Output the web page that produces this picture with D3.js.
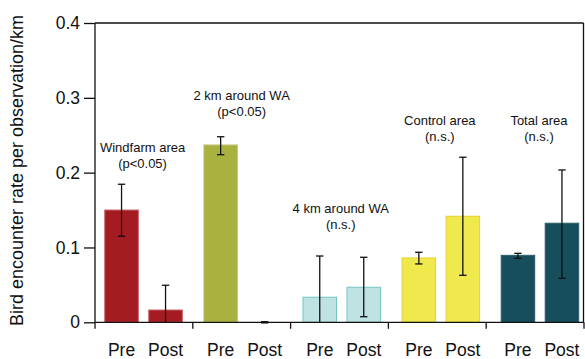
<!DOCTYPE html>
<html><head><meta charset="utf-8">
<script src="https://cdn.jsdelivr.net/npm/d3@7"></script>
<style>body{margin:0;background:#fff}svg{display:block}text{font-family:"Liberation Sans",Arial,sans-serif;fill:#111}</style>
</head><body><svg id="c" width="585" height="359"></svg>
<script>
const groups = ["Windfarm area","2 km around WA","4 km around WA","Control area","Total area"];
const groupNotes = ["(p<0.05)","(p<0.05)","(n.s.)","(n.s.)","(n.s.)"];
const periods = ["Pre","Post"];
const preValues  = [0.150, 0.237, 0.0335, 0.086, 0.0895];
const preLow     = [0.115, 0.224, -0.02, 0.078, 0.0855];
const preHigh    = [0.1845, 0.248, 0.0886, 0.0936, 0.0922];
const postValues = [0.0164, 0.0, 0.0468, 0.1417, 0.1324];
const postLow    = [-0.016, 0.0, 0.0075, 0.0628, 0.0588];
const postHigh   = [0.0495, 0.0, 0.0869, 0.2206, 0.2036];
const labelValues = [0.2276, 0.2977, 0.1463, 0.2634, 0.2634];
const yTicks = [0, 0.1, 0.2, 0.3, 0.4];
const yTickLabels = ["0","0.1","0.2","0.3","0.4"];
const fills   = ["#a41c22","#aab23f","#bfe3e3","#efe94d","#164e5b"];
const strokes = ["#c05a5e","#c3c27a","#74c5c3","#e8d02c","#2a5e6a"];

const svg = d3.select("#c");
const y = d3.scaleLinear().domain([0,0.4]).range([322.3,23]);
const xAxisScale = d3.scaleBand().domain(groups).range([95,584]).paddingInner(0).paddingOuter(0);
const xg = d3.scaleBand().domain(groups).range([94,589.5]);

const bars = [];
groups.forEach((g,i)=>{
  bars.push({g,i,p:"Pre",v:preValues[i],lo:preLow[i],hi:preHigh[i]});
  bars.push({g,i,p:"Post",v:postValues[i],lo:postLow[i],hi:postHigh[i]});
});
const cx = d => xg(d.g)+xg.bandwidth()/2 + (d.p==="Pre"?-22:22);
const bw = 33.5;

// bars
svg.append("g").selectAll("rect").data(bars.filter(d=>d.v>0)).join("rect")
  .attr("x",d=>cx(d)-bw/2).attr("width",bw)
  .attr("y",d=>y(d.v)).attr("height",d=>y(0)-y(d.v))
  .attr("fill",d=>fills[d.i]).attr("stroke",d=>strokes[d.i]).attr("stroke-width",1);

// error bars
const eg = svg.append("g").attr("stroke","#111").attr("stroke-width",1.3);
bars.forEach(d=>{
  const lo = Math.max(0,d.lo);
  const x = cx(d);
  if (d.hi>lo) eg.append("line").attr("x1",x).attr("x2",x).attr("y1",y(d.hi)).attr("y2",y(lo));
  eg.append("line").attr("x1",x-3.7).attr("x2",x+3.7).attr("y1",y(d.hi)).attr("y2",y(d.hi)).attr("stroke-width", d.hi===0?2.5:1.3);
  if (d.lo>0) eg.append("line").attr("x1",x-3.7).attr("x2",x+3.7).attr("y1",y(d.lo)).attr("y2",y(d.lo));
});

// frame
const frame = svg.append("g").attr("stroke","#111").attr("stroke-width",1.3).attr("fill","none");
frame.append("line").attr("x1",95).attr("x2",583.5).attr("y1",y(0.4)).attr("y2",y(0.4));
frame.append("line").attr("x1",583.5).attr("x2",583.5).attr("y1",y(0.4)).attr("y2",y(0));

// y axis
const yAxis = d3.axisLeft(y).tickValues(yTicks).tickFormat((d,i)=>yTickLabels[i]).tickSize(11).tickPadding(4);
const ya = svg.append("g").attr("transform","translate(95,0)").call(yAxis);
ya.select(".domain").attr("stroke","#111").attr("stroke-width",1.3).attr("d",`M0,${y(0.4)}V${y(0)}`);
ya.selectAll(".tick line").attr("stroke","#111").attr("stroke-width",1.3);
ya.selectAll(".tick text").attr("font-size","17.5px").attr("fill","#111").attr("font-family","Liberation Sans, Arial, sans-serif");

// x axis (group boundaries)
const bounds = groups.map(g=>xAxisScale(g)).concat([584]);
const xa = svg.append("g");
xa.append("line").attr("x1",95).attr("x2",584).attr("y1",y(0)).attr("y2",y(0)).attr("stroke","#111").attr("stroke-width",1.3);
xa.selectAll("line.t").data(bounds).join("line").attr("class","t")
  .attr("x1",d=>d).attr("x2",d=>d).attr("y1",y(0)).attr("y2",y(0)+6.5).attr("stroke","#111").attr("stroke-width",1.3);
xa.selectAll("text").data(bars).join("text")
  .attr("x",d=>cx(d)).attr("y",355.5).attr("text-anchor","middle").attr("font-size","17.5px").text(d=>d.p);

// group labels
const lg = svg.append("g");
groups.forEach((g,i)=>{
  const x = xg(g)+xg.bandwidth()/2 - 1;
  const yy = y(labelValues[i]);
  lg.append("text").attr("x",x).attr("y",yy).attr("text-anchor","middle").attr("font-size","13px").text(g);
  lg.append("text").attr("x",x).attr("y",yy+16.2).attr("text-anchor","middle").attr("font-size","13px").text(groupNotes[i]);
});

// y label
svg.append("text").attr("transform","translate(23,170.5) rotate(-90)").attr("text-anchor","middle")
  .attr("font-size","18px").text("Bird encounter rate per observation/km");
</script></body></html>
